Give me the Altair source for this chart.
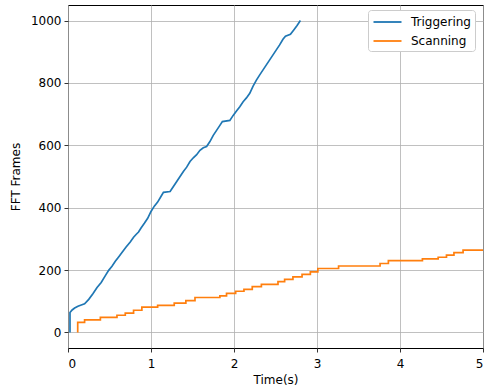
import altair as alt
import pandas as pd

# Triggering series (time in s, cumulative FFT frames)
trig_t = [0.024, 0.024, 0.05, 0.08, 0.12, 0.16, 0.20, 0.25, 0.30, 0.35, 0.40, 0.45, 0.49,
          0.53, 0.57, 0.61, 0.65, 0.70, 0.75, 0.79, 0.82, 0.85, 0.88, 0.92, 0.96, 1.00,
          1.04, 1.08, 1.12, 1.15, 1.23, 1.27, 1.31, 1.35, 1.39, 1.43, 1.47, 1.51, 1.55,
          1.59, 1.63, 1.67, 1.71, 1.75, 1.79, 1.83, 1.86, 1.95, 1.99, 2.03, 2.07, 2.11,
          2.15, 2.19, 2.23, 2.27, 2.31, 2.35, 2.39, 2.43, 2.47, 2.51, 2.55, 2.59, 2.62,
          2.68, 2.72, 2.76, 2.80]
trig_f = [0, 64, 72, 78, 84, 88, 92, 106, 124, 144, 160, 182, 199,
          212, 228, 242, 256, 274, 290, 305, 314, 322, 335, 350, 366, 388,
          405, 418, 436, 449, 452, 468, 484, 500, 516, 530, 548, 560, 570,
          584, 592, 596, 612, 632, 648, 664, 676, 680, 696, 710, 724, 740,
          752, 767, 790, 809, 826, 842, 858, 874, 890, 906, 922, 940, 950,
          956, 970, 984, 1000]

# Scanning series
scan_t = [0.117, 0.117, 0.20, 0.39, 0.59, 0.69, 0.79, 0.89, 1.08, 1.28, 1.42, 1.53, 1.83,
          1.91, 2.02, 2.12, 2.22, 2.33, 2.53, 2.61, 2.71, 2.82, 2.92, 3.01, 3.26, 3.76,
          3.86, 4.27, 4.46, 4.56, 4.65, 4.76, 5.00]
scan_f = [0, 32, 40, 48, 55, 62, 71, 81, 87, 94, 102, 112, 117,
          125, 132, 138, 147, 154, 163, 170, 178, 186, 194, 205, 213, 221,
          230, 236, 241, 248, 256, 264, 264]

series_names = ["Triggering", "Scanning"]
series_colors = ["#1f77b4", "#ff7f0e"]

trig_df = pd.DataFrame({"t": trig_t, "f": trig_f, "series": "Triggering",
                        "i": list(range(len(trig_t)))})
scan_df = pd.DataFrame({"t": scan_t, "f": scan_f, "series": "Scanning",
                        "i": list(range(len(scan_t)))})

FONT = "DejaVu Sans"

x_enc = alt.X("t:Q", title="Time(s)",
              scale=alt.Scale(domain=[0, 5], nice=False, zero=False),
              axis=alt.Axis(values=[0, 1, 2, 3, 4, 5], format="d"))
y_enc = alt.Y("f:Q", title="FFT Frames",
              scale=alt.Scale(domain=[-50, 1050], nice=False, zero=False),
              axis=alt.Axis(values=[0, 200, 400, 600, 800, 1000], format="d"))
color_enc = alt.Color("series:N",
                      scale=alt.Scale(domain=series_names, range=series_colors),
                      legend=alt.Legend(title=None, orient="none", legendX=300, legendY=5,
                                        symbolType="M-2,0H2", symbolSize=196,
                                        symbolStrokeWidth=1.8, symbolOffset=7.5,
                                        labelOffset=15.5,
                                        padding=4, rowPadding=5,
                                        strokeColor="#cccccc", fillColor="white",
                                        cornerRadius=3,
                                        labelFont=FONT, labelFontSize=12,
                                        labelColor="black"))

trig = alt.Chart(trig_df).mark_line(interpolate="linear", strokeWidth=1.7, clip=True).encode(
    x=x_enc, y=y_enc, color=color_enc, order="i:Q")
scan = alt.Chart(scan_df).mark_line(interpolate="step-after", strokeWidth=1.7, clip=True).encode(
    x=x_enc, y=y_enc, color=color_enc, order="i:Q")

chart = alt.layer(trig, scan).properties(
    width=415, height=343,
    padding={"left": 68, "top": 5, "right": 2, "bottom": 42},
    autosize=alt.AutoSizeParams(type="none"),
).configure_view(
    stroke="black", strokeWidth=1
).configure_axis(
    domain=False,
    grid=True, gridColor="#b0b0b0", gridWidth=0.8,
    ticks=True, tickColor="black", tickSize=4, tickWidth=0.8,
    labelFont=FONT, labelFontSize=12, labelColor="black",
    titleFont=FONT, titleFontSize=12, titleColor="black", titleFontWeight="normal",
    labelPadding=3,
).configure_axisX(
    labelPadding=6,
    titlePadding=5
).configure_axisY(
    titlePadding=8
)

chart.save("out.html", embed_options={"renderer": "svg", "actions": False})
